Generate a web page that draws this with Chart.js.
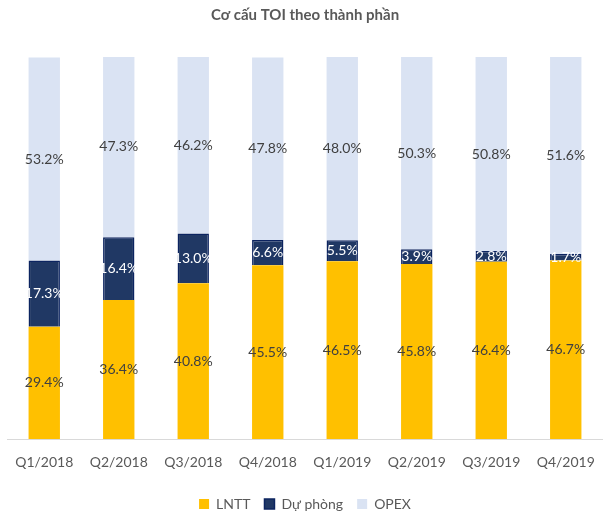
<!DOCTYPE html>
<html>
<head>
<meta charset="utf-8">
<script src="https://cdn.jsdelivr.net/npm/chart.js@4"></script>
<style>
  html, body { margin: 0; padding: 0; background: #fff; }
  #wrap { width: 610px; height: 512px; }
</style>
</head>
<body>
<div id="wrap"><canvas id="toiChart" width="610" height="512"></canvas></div>
<script>
// Data
const quarters = ['Q1/2018', 'Q2/2018', 'Q3/2018', 'Q4/2018', 'Q1/2019', 'Q2/2019', 'Q3/2019', 'Q4/2019'];
const lntt = [29.4, 36.4, 40.8, 45.5, 46.5, 45.8, 46.4, 46.7];
const duPhong = [17.3, 16.4, 13.0, 6.6, 5.5, 3.9, 2.8, 1.7];
const opex = [53.2, 47.3, 46.2, 47.8, 48.0, 50.3, 50.8, 51.6];

const FONT = 'Lato, "Open Sans", sans-serif';

/**
 * Draw the percentage in the middle of each segment
 */
const segmentLabels = {
    id: 'segmentLabels',
    afterDatasetsDraw(chart) {
        const ctx = chart.ctx;
        ctx.save();
        ctx.font = '14px ' + FONT;
        ctx.textAlign = 'center';
        ctx.textBaseline = 'middle';
        chart.data.datasets.forEach((ds, i) => {
            const meta = chart.getDatasetMeta(i);
            meta.data.forEach((bar, j) => {
                const y = (bar.y + bar.base) / 2;
                ctx.fillStyle = ds.labelColor;
                ctx.fillText(ds.data[j].toFixed(1) + '%', bar.x, y);
            });
        });
        ctx.restore();
    }
};

new Chart(document.getElementById('toiChart'), {
    type: 'bar',
    data: {
        labels: quarters,
        datasets: [
            {
                label: 'LNTT',
                data: lntt,
                backgroundColor: '#FFC000',
                borderWidth: 0,
                labelColor: '#404040'
            },
            {
                label: 'Dự phòng',
                data: duPhong,
                backgroundColor: '#203864',
                borderColor: '#0C2460',
                borderWidth: 1.5,
                labelColor: '#FFFFFF'
            },
            {
                label: 'OPEX',
                data: opex,
                backgroundColor: '#DAE3F3',
                borderWidth: 0,
                labelColor: '#404040'
            }
        ]
    },
    options: {
        responsive: false,
        animation: false,
        barPercentage: 0.81,
        categoryPercentage: 0.52,
        layout: {
            padding: { left: 5, right: 5, top: 0, bottom: 0 }
        },
        plugins: {
            title: {
                display: true,
                text: 'Cơ cấu TOI theo thành phần',
                color: '#595959',
                font: { family: FONT, size: 15, weight: 'bold' },
                padding: { top: 6, bottom: 33 }
            },
            legend: {
                position: 'bottom',
                maxHeight: 29,
                labels: {
                    color: '#595959',
                    font: { family: FONT, size: 14 },
                    boxWidth: 10,
                    boxHeight: 10,
                    padding: 14
                }
            },
            tooltip: { enabled: false }
        },
        scales: {
            x: {
                stacked: true,
                grid: { display: false, drawTicks: false },
                border: { display: true, color: '#D9D9D9', width: 1 },
                ticks: {
                    color: '#595959',
                    font: { family: FONT, size: 14 },
                    padding: 15,
                    maxRotation: 0
                },
                afterFit(scale) {
                    scale.height = 44;
                }
            },
            y: {
                stacked: true,
                display: false,
                min: 0,
                max: 100
            }
        }
    },
    plugins: [segmentLabels]
});
</script>
</body>
</html>
